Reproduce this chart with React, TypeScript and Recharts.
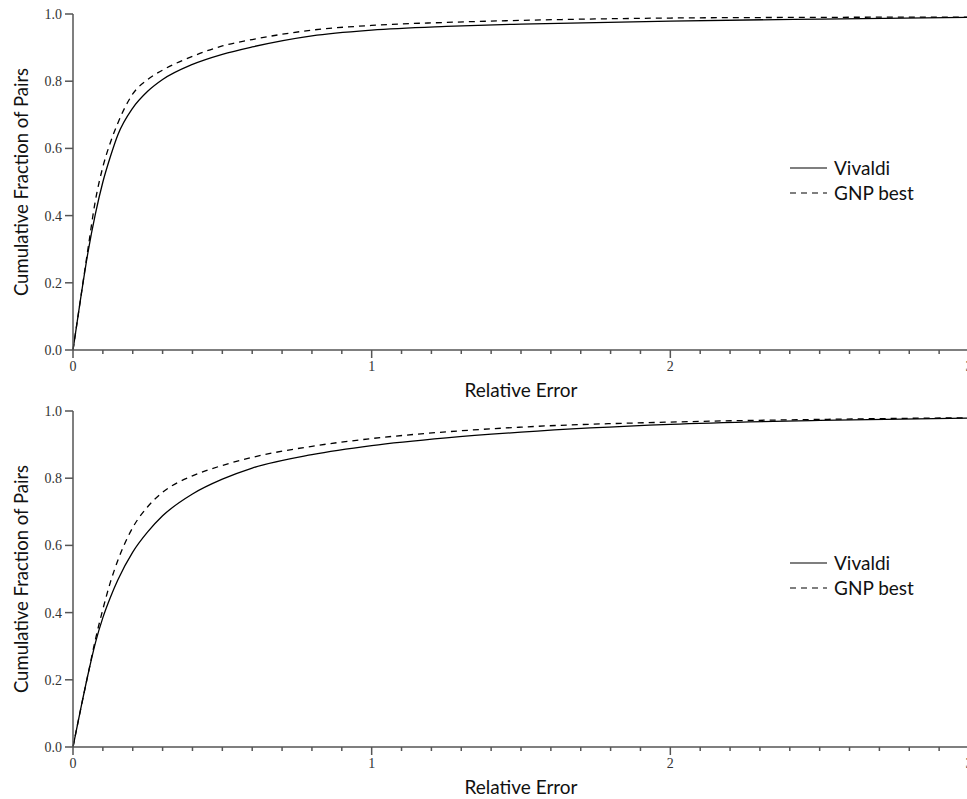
import React from 'react';
import { LineChart, Line, XAxis, YAxis, Legend, Label } from 'recharts';

// shared sample points along the relative-error axis
const relErr = [0, 0.025, 0.05, 0.075, 0.1, 0.125, 0.15, 0.2, 0.25, 0.3, 0.4, 0.5, 0.6, 0.8, 1.0, 1.25, 1.5, 2.0, 2.5, 3.0];

// upper panel
const topVivaldi = [0, 0.15, 0.29, 0.405, 0.5, 0.575, 0.64, 0.72, 0.77, 0.805, 0.85, 0.88, 0.902, 0.935, 0.952, 0.963, 0.97, 0.979, 0.985, 0.99];
const topGnp = [0, 0.15, 0.3, 0.445, 0.545, 0.617, 0.675, 0.762, 0.805, 0.833, 0.874, 0.905, 0.924, 0.952, 0.966, 0.975, 0.981, 0.988, 0.99, 0.991];

// lower panel
const bottomVivaldi = [0, 0.11, 0.215, 0.31, 0.385, 0.445, 0.497, 0.58, 0.64, 0.688, 0.753, 0.797, 0.83, 0.87, 0.897, 0.92, 0.937, 0.96, 0.972, 0.979];
const bottomGnp = [0, 0.11, 0.215, 0.32, 0.41, 0.49, 0.555, 0.653, 0.715, 0.758, 0.807, 0.838, 0.862, 0.895, 0.918, 0.938, 0.952, 0.967, 0.975, 0.98];

const yTicks = [0, 0.2, 0.4, 0.6, 0.8, 1.0];
const xTicks = Array.from({ length: 31 }, (_, i) => i / 10);

const seriesNames = ['Vivaldi', 'GNP best'];

const SANS = 'Lato, "Open Sans", sans-serif';
const SERIF = '"Liberation Serif", "Times New Roman", serif';
const AXIS = '#555';
const TICK_TEXT = '#333';
const DASH = '6 5';

const CHART_H = 410;
const PANEL_STEP = 397;

const XTick = (props: any) => {
  const { x, y, payload } = props;
  const v = Math.round(payload.value * 10) / 10;
  const major = Number.isInteger(v);
  return (
    <g>
      <line x1={x} x2={x} y1={y} y2={y + (major ? 8 : 4)} stroke={AXIS} strokeWidth={1.5} />
      {major && (
        <text x={x} y={y + 21} textAnchor="middle" fontFamily={SERIF} fontSize={14} fill={TICK_TEXT}>
          {v}
        </text>
      )}
    </g>
  );
};

const YTick = (props: any) => {
  const { x, y, payload } = props;
  return (
    <text x={x} y={y} dy={5} textAnchor="end" fontFamily={SERIF} fontSize={14} fill={TICK_TEXT}>
      {Number(payload.value).toFixed(1)}
    </text>
  );
};

const XTitle = (props: any) => {
  const vb = props.viewBox;
  return (
    <text x={vb.x + vb.width / 2} y={vb.y + 47} textAnchor="middle" fontFamily={SANS} fontSize={19} fill="#111">
      Relative Error
    </text>
  );
};

const YTitle = (props: any) => {
  const vb = props.viewBox;
  const cx = 21;
  const cy = vb.y + vb.height / 2;
  return (
    <text
      x={cx}
      y={cy}
      transform={`rotate(-90, ${cx}, ${cy})`}
      textAnchor="middle"
      dominantBaseline="central"
      fontFamily={SANS}
      fontSize={18.5}
      fill="#111"
    >
      Cumulative Fraction of Pairs
    </text>
  );
};

const LegendBox = () => (
  <div style={{ fontFamily: SANS, fontSize: 19, color: '#111' }}>
    {seriesNames.map((name, i) => (
      <div key={name} style={{ display: 'flex', alignItems: 'center', height: 25 }}>
        <svg width={44} height={10}>
          <line x1={0} x2={37} y1={5} y2={5} stroke="#000" strokeWidth={1.2} strokeDasharray={i === 1 ? DASH : undefined} />
        </svg>
        <span>{name}</span>
      </div>
    ))}
  </div>
);

interface PanelProps {
  vivaldi: number[];
  gnp: number[];
  legendTop: number;
  style?: React.CSSProperties;
}

const Panel: React.FC<PanelProps> = ({ vivaldi, gnp, legendTop, style }) => {
  const data = relErr.map((x, i) => ({ x, vivaldi: vivaldi[i], gnp: gnp[i] }));
  return (
    <LineChart
      width={969}
      height={CHART_H}
      data={data}
      margin={{ top: 14, right: 0, bottom: CHART_H - PANEL_STEP, left: 0 }}
      style={style}
    >
      <XAxis
        dataKey="x"
        type="number"
        domain={[0, 3]}
        ticks={xTicks}
        interval={0}
        tick={<XTick />}
        tickLine={false}
        tickSize={0}
        tickMargin={0}
        height={47}
        stroke={AXIS}
        strokeWidth={1.5}
      >
        <Label content={<XTitle />} />
      </XAxis>
      <YAxis
        type="number"
        domain={[0, 1]}
        ticks={yTicks}
        interval={0}
        width={73}
        tickSize={8}
        tickMargin={3}
        tick={<YTick />}
        stroke={AXIS}
        strokeWidth={1.5}
      >
        <Label content={<YTitle />} />
      </YAxis>
      <Legend
        layout="horizontal"
        verticalAlign="middle"
        content={<LegendBox />}
        wrapperStyle={{ position: 'absolute', left: 790, top: legendTop, width: 'auto' }}
      />
      <Line type="monotone" dataKey="vivaldi" name="Vivaldi" stroke="#000" strokeWidth={1.3} dot={false} isAnimationActive={false} />
      <Line type="monotone" dataKey="gnp" name="GNP best" stroke="#000" strokeWidth={1.3} strokeDasharray={DASH} dot={false} isAnimationActive={false} />
    </LineChart>
  );
};

export default function App() {
  return (
    <div style={{ position: 'absolute', left: 0, top: 0, width: 967, height: 799, overflow: 'hidden', background: '#fff' }}>
      <Panel vivaldi={topVivaldi} gnp={topGnp} legendTop={155} />
      <Panel
        vivaldi={bottomVivaldi}
        gnp={bottomGnp}
        legendTop={153}
        style={{ marginTop: PANEL_STEP - CHART_H }}
      />
    </div>
  );
}
